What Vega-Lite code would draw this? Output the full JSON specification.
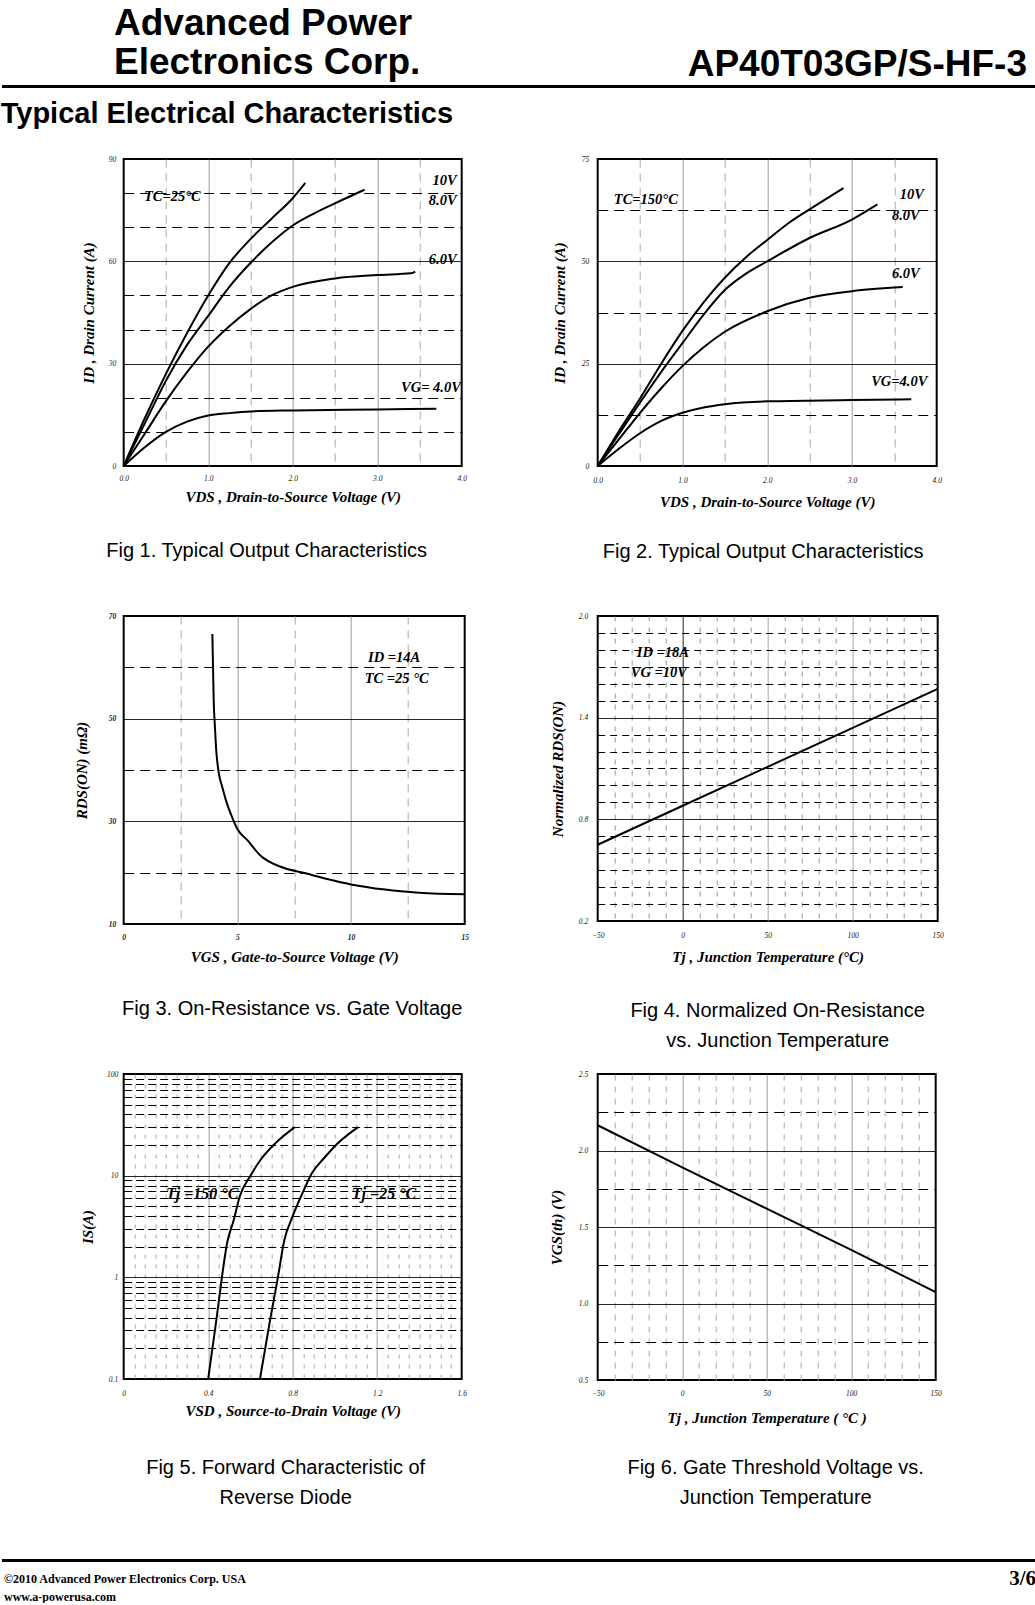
{
  "$schema": "https://vega.github.io/schema/vega-lite/v6.json",
  "background": "white",
  "padding": {"top": 5, "left": 0, "right": 0, "bottom": 0},
  "title": {"text": "AP40T03GP/S-HF-3", "anchor": "end", "frame": "bounds", "orient": "top", "dx": -39, "offset": -116, "baseline": "bottom", "font": "Liberation Sans", "fontSize": 37, "fontWeight": "bold", "color": "black"},
  "config": {
    "font": "Liberation Serif",
    "view": {"stroke": "black", "strokeWidth": 2},
    "axis": {
      "ticks": false, "domain": false, "grid": true, "gridWidth": 1,
      "labelFont": "Liberation Serif", "labelFontStyle": "italic", "labelFontSize": 7.5, "labelColor": "#222",
      "labelOverlap": false, "labelFlush": false,
      "titleFont": "Liberation Serif", "titleFontStyle": "italic", "titleFontWeight": "bold", "titleFontSize": 15, "titleColor": "black"
    },
    "title": {"font": "Liberation Sans", "fontSize": 20, "fontWeight": "normal", "color": "black"},
    "text": {"font": "Liberation Serif", "fontSize": 14.5, "fontWeight": "bold", "fontStyle": "italic", "color": "black"}
  },
  "spacing": 12,
  "center": true,
  "vconcat": [
    {
      "width": 1064, "height": 3,
      "view": {"fill": "black", "stroke": null},
      "title": {"text": ["Advanced Power", "Electronics Corp."], "anchor": "start", "frame": "group", "orient": "top", "dx": 112, "offset": -34, "baseline": "bottom", "font": "Liberation Sans", "fontSize": 37, "fontWeight": "bold", "lineHeight": 39, "color": "black"},
      "data": {"values": []},
      "mark": {"type": "point", "opacity": 0}
    },
    {
      "title": {"text": "Typical Electrical Characteristics", "anchor": "start", "frame": "group", "orient": "top", "dx": -123, "offset": -4, "baseline": "bottom", "font": "Liberation Sans", "fontSize": 29, "fontWeight": "bold", "color": "black"},
      "columns": 2,
      "bounds": "flush",
      "align": "each",
      "spacing": {"row": 150, "column": 133},
      "concat": [
        {
          "width": 338, "height": 307,
          "title": {"text": "Fig 1. Typical Output Characteristics", "orient": "bottom", "anchor": "middle", "frame": "group", "dx": -26, "offset": 36, "baseline": "top"},
          "layer": [
            {
              "data": {"values": [
                {"v": 0, "i": 0, "g": "10V"}, {"v": 0.25, "i": 14, "g": "10V"}, {"v": 0.5, "i": 27, "g": "10V"}, {"v": 0.75, "i": 39, "g": "10V"}, {"v": 1, "i": 50, "g": "10V"}, {"v": 1.25, "i": 59.5, "g": "10V"}, {"v": 1.5, "i": 66.5, "g": "10V"}, {"v": 1.75, "i": 72.5, "g": "10V"}, {"v": 2, "i": 78.5, "g": "10V"}, {"v": 2.15, "i": 83, "g": "10V"},
                {"v": 0, "i": 0, "g": "8V"}, {"v": 0.25, "i": 12.5, "g": "8V"}, {"v": 0.5, "i": 25, "g": "8V"}, {"v": 0.75, "i": 35.5, "g": "8V"}, {"v": 1, "i": 44, "g": "8V"}, {"v": 1.25, "i": 52.5, "g": "8V"}, {"v": 1.5, "i": 59.5, "g": "8V"}, {"v": 1.75, "i": 65.5, "g": "8V"}, {"v": 2, "i": 70.5, "g": "8V"}, {"v": 2.25, "i": 74, "g": "8V"}, {"v": 2.5, "i": 77, "g": "8V"}, {"v": 2.85, "i": 81, "g": "8V"},
                {"v": 0, "i": 0, "g": "6V"}, {"v": 0.25, "i": 9.5, "g": "6V"}, {"v": 0.5, "i": 19, "g": "6V"}, {"v": 0.75, "i": 27.5, "g": "6V"}, {"v": 1, "i": 35, "g": "6V"}, {"v": 1.25, "i": 41, "g": "6V"}, {"v": 1.5, "i": 46, "g": "6V"}, {"v": 1.75, "i": 50, "g": "6V"}, {"v": 2, "i": 52.5, "g": "6V"}, {"v": 2.5, "i": 55, "g": "6V"}, {"v": 3, "i": 56, "g": "6V"}, {"v": 3.4, "i": 56.5, "g": "6V"}, {"v": 3.45, "i": 57, "g": "6V"},
                {"v": 0, "i": 0, "g": "4V"}, {"v": 0.25, "i": 5.5, "g": "4V"}, {"v": 0.5, "i": 10, "g": "4V"}, {"v": 0.75, "i": 13, "g": "4V"}, {"v": 1, "i": 14.8, "g": "4V"}, {"v": 1.25, "i": 15.5, "g": "4V"}, {"v": 1.5, "i": 16, "g": "4V"}, {"v": 2, "i": 16.3, "g": "4V"}, {"v": 3, "i": 16.6, "g": "4V"}, {"v": 3.7, "i": 16.8, "g": "4V"}
              ]},
              "mark": {"type": "line", "color": "black", "strokeWidth": 2, "interpolate": "monotone"},
              "encoding": {
                "x": {"field": "v", "type": "quantitative", "scale": {"domain": [0, 4], "nice": false},
                  "axis": {"title": "VDS , Drain-to-Source Voltage (V)", "values": [0, 0.5, 1, 1.5, 2, 2.5, 3, 3.5, 4], "tickCount": 200,
                    "labelExpr": "datum.value % 1 === 0 ? format(datum.value, '.1f') : ''",
                    "gridColor": {"condition": {"test": "datum.value % 1 === 0", "value": "#8c8c8c"}, "value": "#a8a8a8"},
                    "gridDash": {"condition": {"test": "datum.value % 1 === 0", "value": [1, 0]}, "value": [8, 6]},
                    "gridOpacity": {"condition": {"test": "datum.value <= 0 || datum.value >= 4", "value": 0}, "value": 1},
                    "labelPadding": 8, "titlePadding": 8}},
                "y": {"field": "i", "type": "quantitative", "scale": {"domain": [0, 90], "nice": false},
                  "axis": {"title": "ID , Drain Current (A)", "values": [0, 10, 20, 30, 40, 50, 60, 70, 80, 90], "tickCount": 200,
                    "labelExpr": "datum.value % 30 === 0 ? format(datum.value, 'd') : ''",
                    "gridColor": "black",
                    "gridDash": {"condition": {"test": "datum.value % 30 === 0", "value": [1, 0]}, "value": [10, 6]},
                    "gridOpacity": {"condition": {"test": "datum.value <= 0 || datum.value >= 90", "value": 0}, "value": 1},
                    "labelPadding": 8, "titlePadding": 12}},
                "detail": {"field": "g", "type": "nominal"}
              }
            },
            {
              "data": {"values": [{"v": 0.24, "i": 79, "t": "TC=25°C"}]},
              "mark": {"type": "text", "align": "left", "baseline": "middle"},
              "encoding": {"x": {"field": "v", "type": "quantitative"}, "y": {"field": "i", "type": "quantitative"}, "text": {"field": "t"}}
            },
            {
              "data": {"values": [{"v": 3.94, "i": 83.5, "t": "10V"}, {"v": 3.94, "i": 77.6, "t": "8.0V"}, {"v": 3.94, "i": 60.5, "t": "6.0V"}, {"v": 3.99, "i": 23, "t": "VG= 4.0V"}]},
              "mark": {"type": "text", "align": "right", "baseline": "middle"},
              "encoding": {"x": {"field": "v", "type": "quantitative"}, "y": {"field": "i", "type": "quantitative"}, "text": {"field": "t"}}
            }
          ]
        },
        {
          "width": 339, "height": 307,
          "title": {"text": "Fig 2. Typical Output Characteristics", "orient": "bottom", "anchor": "middle", "frame": "group", "dx": -4, "offset": 32, "baseline": "top"},
          "layer": [
            {
              "data": {"values": [
                {"v": 0, "i": 0, "g": "10V"}, {"v": 0.25, "i": 8.5, "g": "10V"}, {"v": 0.5, "i": 16.5, "g": "10V"}, {"v": 0.75, "i": 25, "g": "10V"}, {"v": 1, "i": 33, "g": "10V"}, {"v": 1.25, "i": 40, "g": "10V"}, {"v": 1.5, "i": 46, "g": "10V"}, {"v": 1.75, "i": 51, "g": "10V"}, {"v": 2, "i": 55.2, "g": "10V"}, {"v": 2.25, "i": 59.3, "g": "10V"}, {"v": 2.5, "i": 62.7, "g": "10V"}, {"v": 2.9, "i": 67.9, "g": "10V"},
                {"v": 0, "i": 0, "g": "8V"}, {"v": 0.25, "i": 7.8, "g": "8V"}, {"v": 0.5, "i": 15.5, "g": "8V"}, {"v": 0.75, "i": 23, "g": "8V"}, {"v": 1, "i": 30, "g": "8V"}, {"v": 1.25, "i": 37, "g": "8V"}, {"v": 1.5, "i": 43, "g": "8V"}, {"v": 1.75, "i": 47, "g": "8V"}, {"v": 2, "i": 50, "g": "8V"}, {"v": 2.5, "i": 55.7, "g": "8V"}, {"v": 3, "i": 60.2, "g": "8V"}, {"v": 3.3, "i": 63.9, "g": "8V"},
                {"v": 0, "i": 0, "g": "6V"}, {"v": 0.25, "i": 6.5, "g": "6V"}, {"v": 0.5, "i": 13, "g": "6V"}, {"v": 0.75, "i": 19, "g": "6V"}, {"v": 1, "i": 24.4, "g": "6V"}, {"v": 1.25, "i": 29, "g": "6V"}, {"v": 1.5, "i": 32.8, "g": "6V"}, {"v": 2, "i": 37.8, "g": "6V"}, {"v": 2.5, "i": 41.1, "g": "6V"}, {"v": 3, "i": 42.7, "g": "6V"}, {"v": 3.6, "i": 43.7, "g": "6V"},
                {"v": 0, "i": 0, "g": "4V"}, {"v": 0.25, "i": 4.2, "g": "4V"}, {"v": 0.5, "i": 8, "g": "4V"}, {"v": 0.75, "i": 11, "g": "4V"}, {"v": 1, "i": 13, "g": "4V"}, {"v": 1.25, "i": 14.3, "g": "4V"}, {"v": 1.5, "i": 15.1, "g": "4V"}, {"v": 2, "i": 15.8, "g": "4V"}, {"v": 3, "i": 16.1, "g": "4V"}, {"v": 3.7, "i": 16.3, "g": "4V"}
              ]},
              "mark": {"type": "line", "color": "black", "strokeWidth": 2, "interpolate": "monotone"},
              "encoding": {
                "x": {"field": "v", "type": "quantitative", "scale": {"domain": [0, 4], "nice": false},
                  "axis": {"title": "VDS , Drain-to-Source Voltage (V)", "values": [0, 0.5, 1, 1.5, 2, 2.5, 3, 3.5, 4], "tickCount": 200,
                    "labelExpr": "datum.value % 1 === 0 ? format(datum.value, '.1f') : ''",
                    "gridColor": {"condition": {"test": "datum.value % 1 === 0", "value": "#8c8c8c"}, "value": "#a8a8a8"},
                    "gridDash": {"condition": {"test": "datum.value % 1 === 0", "value": [1, 0]}, "value": [8, 6]},
                    "gridOpacity": {"condition": {"test": "datum.value <= 0 || datum.value >= 4", "value": 0}, "value": 1},
                    "labelPadding": 10, "titlePadding": 11}},
                "y": {"field": "i", "type": "quantitative", "scale": {"domain": [0, 75], "nice": false},
                  "axis": {"title": "ID , Drain Current (A)", "values": [0, 12.5, 25, 37.5, 50, 62.5, 75], "tickCount": 200,
                    "labelExpr": "datum.value % 25 === 0 ? format(datum.value, 'd') : ''",
                    "gridColor": "black",
                    "gridDash": {"condition": {"test": "datum.value % 25 === 0", "value": [1, 0]}, "value": [10, 6]},
                    "gridOpacity": {"condition": {"test": "datum.value <= 0 || datum.value >= 75", "value": 0}, "value": 1},
                    "labelPadding": 9, "titlePadding": 14}},
                "detail": {"field": "g", "type": "nominal"}
              }
            },
            {
              "data": {"values": [{"v": 0.19, "i": 65, "t": "TC=150°C"}]},
              "mark": {"type": "text", "align": "left", "baseline": "middle"},
              "encoding": {"x": {"field": "v", "type": "quantitative"}, "y": {"field": "i", "type": "quantitative"}, "text": {"field": "t"}}
            },
            {
              "data": {"values": [{"v": 3.85, "i": 66.2, "t": "10V"}, {"v": 3.8, "i": 61, "t": "8.0V"}, {"v": 3.8, "i": 46.8, "t": "6.0V"}, {"v": 3.89, "i": 20.5, "t": "VG=4.0V"}]},
              "mark": {"type": "text", "align": "right", "baseline": "middle"},
              "encoding": {"x": {"field": "v", "type": "quantitative"}, "y": {"field": "i", "type": "quantitative"}, "text": {"field": "t"}}
            }
          ]
        },
        {
          "width": 341, "height": 308,
          "title": {"text": "Fig 3.  On-Resistance vs. Gate Voltage", "orient": "bottom", "anchor": "middle", "frame": "group", "dx": -2, "offset": 34, "baseline": "top"},
          "layer": [
            {
              "data": {"values": [
                {"v": 3.9, "r": 66.5}, {"v": 3.93, "r": 60}, {"v": 3.96, "r": 53.5}, {"v": 4.0, "r": 49.5}, {"v": 4.06, "r": 44.5}, {"v": 4.18, "r": 39.5}, {"v": 4.33, "r": 36.8}, {"v": 4.52, "r": 33.8}, {"v": 4.75, "r": 31}, {"v": 5.0, "r": 28.5}, {"v": 5.45, "r": 26.3}, {"v": 6.0, "r": 23.4}, {"v": 7.0, "r": 21}, {"v": 8.0, "r": 19.9}, {"v": 9.0, "r": 18.7}, {"v": 10.0, "r": 17.7}, {"v": 11.5, "r": 16.7}, {"v": 13.0, "r": 16.1}, {"v": 15.0, "r": 15.8}
              ]},
              "mark": {"type": "line", "color": "black", "strokeWidth": 2, "interpolate": "monotone"},
              "encoding": {
                "x": {"field": "v", "type": "quantitative", "scale": {"domain": [0, 15], "nice": false},
                  "axis": {"title": "VGS , Gate-to-Source Voltage (V)", "values": [0, 2.5, 5, 7.5, 10, 12.5, 15], "tickCount": 200,
                    "labelExpr": "datum.value % 5 === 0 ? format(datum.value, 'd') : ''", "labelFontWeight": "bold",
                    "gridColor": {"condition": {"test": "datum.value % 5 === 0", "value": "#8c8c8c"}, "value": "#a8a8a8"},
                    "gridDash": {"condition": {"test": "datum.value % 5 === 0", "value": [1, 0]}, "value": [8, 6]},
                    "gridOpacity": {"condition": {"test": "datum.value <= 0 || datum.value >= 15", "value": 0}, "value": 1},
                    "labelPadding": 9, "titlePadding": 9}},
                "y": {"field": "r", "type": "quantitative", "scale": {"domain": [10, 70], "nice": false, "zero": false},
                  "axis": {"title": "RDS(ON) (mΩ)", "values": [10, 20, 30, 40, 50, 60, 70], "tickCount": 200,
                    "labelExpr": "(datum.value - 10) % 20 === 0 ? format(datum.value, 'd') : ''", "labelFontWeight": "bold",
                    "gridColor": "black",
                    "gridDash": {"condition": {"test": "(datum.value - 10) % 20 === 0", "value": [1, 0]}, "value": [10, 6]},
                    "gridOpacity": {"condition": {"test": "datum.value <= 10 || datum.value >= 70", "value": 0}, "value": 1},
                    "labelPadding": 8, "titlePadding": 19}}
              }
            },
            {
              "data": {"values": [{"v": 10.75, "r": 61.8, "t": "ID =14A"}, {"v": 10.6, "r": 57.7, "t": "TC =25 °C"}]},
              "mark": {"type": "text", "align": "left", "baseline": "middle"},
              "encoding": {"x": {"field": "v", "type": "quantitative"}, "y": {"field": "r", "type": "quantitative"}, "text": {"field": "t"}}
            }
          ]
        },
        {
          "width": 340, "height": 305,
          "title": {"text": ["Fig 4. Normalized On-Resistance", "vs. Junction Temperature"], "orient": "bottom", "anchor": "middle", "frame": "group", "dx": 10, "offset": 36, "baseline": "top", "lineHeight": 30},
          "layer": [
            {
              "data": {"values": [{"t": -50, "n": 0.65}, {"t": 0, "n": 0.88}, {"t": 50, "n": 1.11}, {"t": 100, "n": 1.34}, {"t": 150, "n": 1.57}]},
              "mark": {"type": "line", "color": "black", "strokeWidth": 2},
              "encoding": {
                "x": {"field": "t", "type": "quantitative", "scale": {"domain": [-50, 150], "nice": false, "zero": false},
                  "axis": {"title": "Tj , Junction Temperature (°C)", "values": [-50, -40, -30, -20, -10, 0, 10, 20, 30, 40, 50, 60, 70, 80, 90, 100, 110, 120, 130, 140, 150], "tickCount": 200,
                    "labelExpr": "datum.value % 50 === 0 ? datum.label : ''",
                    "gridColor": {"condition": {"test": "datum.value === 0", "value": "black"}, "value": "#999999"},
                    "gridDash": {"condition": {"test": "datum.value % 50 === 0", "value": [1, 0]}, "value": [5, 6]},
                    "gridOpacity": {"condition": {"test": "datum.value <= -50 || datum.value >= 150", "value": 0}, "value": 1},
                    "labelPadding": 10, "titlePadding": 11}},
                "y": {"field": "n", "type": "quantitative", "scale": {"domain": [0.2, 2.0], "nice": false, "zero": false},
                  "axis": {"title": "Normalized RDS(ON)", "values": [0.2, 0.3, 0.4, 0.5, 0.6, 0.7, 0.8, 0.9, 1.0, 1.1, 1.2, 1.3, 1.4, 1.5, 1.6, 1.7, 1.8, 1.9, 2.0], "tickCount": 200,
                    "labelExpr": "indexof([0.2, 0.8, 1.4, 2], datum.value) >= 0 ? format(datum.value, '.1f') : ''",
                    "gridColor": "black",
                    "gridDash": {"condition": {"test": "indexof([0.8, 1.4], datum.value) >= 0", "value": [1, 0]}, "value": [7, 5]},
                    "gridOpacity": {"condition": {"test": "datum.value <= 0.2 || datum.value >= 2", "value": 0}, "value": 1},
                    "labelPadding": 10, "titlePadding": 13}}
              }
            },
            {
              "data": {"values": [{"t": -27, "n": 1.78, "s": "ID =18A"}, {"t": -30.5, "n": 1.665, "s": "VG =10V"}]},
              "mark": {"type": "text", "align": "left", "baseline": "middle"},
              "encoding": {"x": {"field": "t", "type": "quantitative"}, "y": {"field": "n", "type": "quantitative"}, "text": {"field": "s"}}
            }
          ]
        },
        {
          "width": 338, "height": 305,
          "title": {"text": ["Fig 5. Forward Characteristic of", "Reverse Diode"], "orient": "bottom", "anchor": "middle", "frame": "group", "dx": -7, "offset": 39, "baseline": "top", "lineHeight": 30},
          "layer": [
            {
              "data": {"values": [
                {"v": 0.40, "s": 0.1, "g": "150"}, {"v": 0.42, "s": 0.2, "g": "150"}, {"v": 0.44, "s": 0.4, "g": "150"}, {"v": 0.465, "s": 1.0, "g": "150"}, {"v": 0.49, "s": 2.2, "g": "150"}, {"v": 0.52, "s": 3.6, "g": "150"}, {"v": 0.55, "s": 6.3, "g": "150"}, {"v": 0.60, "s": 10, "g": "150"}, {"v": 0.65, "s": 14.5, "g": "150"}, {"v": 0.72, "s": 21, "g": "150"}, {"v": 0.81, "s": 30, "g": "150"},
                {"v": 0.645, "s": 0.1, "g": "25"}, {"v": 0.67, "s": 0.2, "g": "25"}, {"v": 0.69, "s": 0.35, "g": "25"}, {"v": 0.73, "s": 1.0, "g": "25"}, {"v": 0.76, "s": 2.3, "g": "25"}, {"v": 0.80, "s": 4.0, "g": "25"}, {"v": 0.85, "s": 7.0, "g": "25"}, {"v": 0.89, "s": 10.5, "g": "25"}, {"v": 0.95, "s": 15, "g": "25"}, {"v": 1.01, "s": 20.5, "g": "25"}, {"v": 1.11, "s": 30, "g": "25"}
              ]},
              "mark": {"type": "line", "color": "black", "strokeWidth": 2, "interpolate": "monotone"},
              "encoding": {
                "x": {"field": "v", "type": "quantitative", "scale": {"domain": [0, 1.6], "nice": false},
                  "axis": {"title": "VSD , Source-to-Drain Voltage (V)", "values": [0, 0.05, 0.1, 0.15, 0.2, 0.25, 0.3, 0.35, 0.4, 0.45, 0.5, 0.55, 0.6, 0.65, 0.7, 0.75, 0.8, 0.85, 0.9, 0.95, 1, 1.05, 1.1, 1.15, 1.2, 1.25, 1.3, 1.35, 1.4, 1.45, 1.5, 1.55, 1.6], "tickCount": 200,
                    "labelExpr": "indexof([0, 0.4, 0.8, 1.2, 1.6], datum.value) >= 0 ? format(datum.value, '~g') : ''",
                    "gridColor": {"condition": {"test": "indexof([0.4, 0.8, 1.2], datum.value) >= 0", "value": "#8c8c8c"}, "value": "#a8a8a8"},
                    "gridDash": {"condition": {"test": "indexof([0.4, 0.8, 1.2], datum.value) >= 0", "value": [1, 0]}, "value": [4, 6]},
                    "gridOpacity": {"condition": {"test": "datum.value <= 0 || datum.value >= 1.6", "value": 0}, "value": 1},
                    "labelPadding": 10, "titlePadding": 7}},
                "y": {"field": "s", "type": "quantitative", "scale": {"type": "log", "domain": [0.1, 100], "nice": false},
                  "axis": {"title": "IS(A)", "values": [0.1, 0.2, 0.3, 0.4, 0.5, 0.6, 0.7, 0.8, 0.9, 1, 2, 3, 4, 5, 6, 7, 8, 9, 10, 20, 30, 40, 50, 60, 70, 80, 90, 100], "tickCount": 200,
                    "labelExpr": "indexof([0.1, 1, 10, 100], datum.value) >= 0 ? format(datum.value, '~g') : ''",
                    "gridColor": "black",
                    "gridDash": {"condition": {"test": "datum.value === 1 || datum.value === 10", "value": [1, 0]}, "value": [8, 4]},
                    "gridOpacity": {"condition": {"test": "datum.value <= 0.1 || datum.value >= 100", "value": 0}, "value": 1},
                    "labelPadding": 6, "titlePadding": 11}},
                "detail": {"field": "g", "type": "nominal"}
              }
            },
            {
              "data": {"values": [{"v": 0.2, "s": 6.6, "t": "Tj =150 °C"}, {"v": 1.08, "s": 6.6, "t": "Tj =25 °C"}]},
              "mark": {"type": "text", "align": "left", "baseline": "middle", "fontSize": 16},
              "encoding": {"x": {"field": "v", "type": "quantitative"}, "y": {"field": "s", "type": "quantitative"}, "text": {"field": "t"}}
            }
          ]
        },
        {
          "width": 338, "height": 306,
          "title": {"text": ["Fig 6. Gate Threshold Voltage vs.", "Junction Temperature"], "orient": "bottom", "anchor": "middle", "frame": "group", "dx": 9, "offset": 32, "baseline": "top", "lineHeight": 30},
          "data": {"values": [{"t": -50, "vth": 2.165}, {"t": 0, "vth": 1.89}, {"t": 50, "vth": 1.62}, {"t": 100, "vth": 1.35}, {"t": 150, "vth": 1.075}]},
          "mark": {"type": "line", "color": "black", "strokeWidth": 2},
          "encoding": {
            "x": {"field": "t", "type": "quantitative", "scale": {"domain": [-50, 150], "nice": false, "zero": false},
              "axis": {"title": "Tj , Junction Temperature ( °C )", "values": [-50, -40, -30, -20, -10, 0, 10, 20, 30, 40, 50, 60, 70, 80, 90, 100, 110, 120, 130, 140, 150], "tickCount": 200,
                "labelExpr": "datum.value % 50 === 0 ? datum.label : ''",
                "gridColor": {"condition": {"test": "datum.value % 50 === 0", "value": "#8c8c8c"}, "value": "#a8a8a8"},
                "gridDash": {"condition": {"test": "datum.value % 50 === 0", "value": [1, 0]}, "value": [6, 6]},
                "gridOpacity": {"condition": {"test": "datum.value <= -50 || datum.value >= 150", "value": 0}, "value": 1},
                "labelPadding": 9, "titlePadding": 14}},
            "y": {"field": "vth", "type": "quantitative", "scale": {"domain": [0.5, 2.5], "nice": false, "zero": false},
              "axis": {"title": "VGS(th) (V)", "values": [0.5, 0.75, 1, 1.25, 1.5, 1.75, 2, 2.25, 2.5], "tickCount": 200,
                "labelExpr": "datum.value % 0.5 === 0 ? format(datum.value, '.1f') : ''",
                "gridColor": "black",
                "gridDash": {"condition": {"test": "datum.value % 0.5 === 0", "value": [1, 0]}, "value": [10, 6]},
                "gridOpacity": {"condition": {"test": "datum.value <= 0.5 || datum.value >= 2.5", "value": 0}, "value": 1},
                "labelPadding": 10, "titlePadding": 14}}
          }
        }
      ]
    },
    {
      "width": 1064, "height": 26,
      "view": {"fill": "white", "stroke": null},
      "data": {"values": []},
      "mark": {"type": "point", "opacity": 0}
    },
    {
      "width": 1064, "height": 3,
      "view": {"fill": "black", "stroke": null},
      "title": {"text": ["©2010 Advanced Power Electronics Corp. USA", "www.a-powerusa.com"], "orient": "bottom", "anchor": "start", "frame": "group", "dx": 2, "offset": -15, "baseline": "top", "font": "Liberation Serif", "fontSize": 12, "fontWeight": "bold", "lineHeight": 18, "color": "black"},
      "data": {"values": [{"label": "3/6"}]},
      "mark": {"type": "text", "x": "width", "y": "height", "dx": -30, "dy": 23, "align": "right", "baseline": "alphabetic", "font": "Liberation Serif", "fontSize": 21, "fontWeight": "bold", "fontStyle": "normal"},
      "encoding": {"text": {"field": "label"}}
    }
  ]
}
